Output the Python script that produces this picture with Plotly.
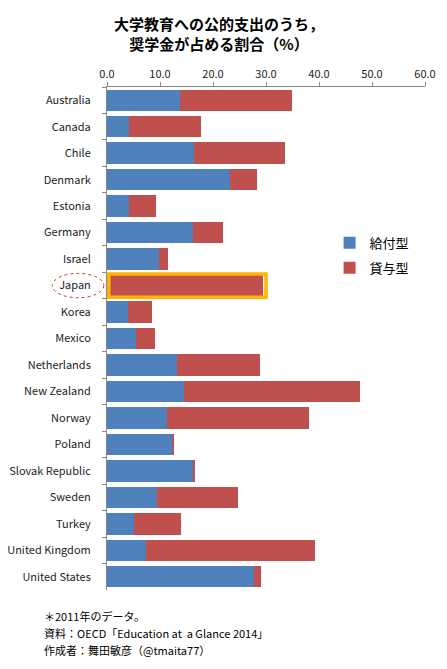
import plotly.graph_objects as go

countries = ["Australia", "Canada", "Chile", "Denmark", "Estonia", "Germany", "Israel",
             "Japan", "Korea", "Mexico", "Netherlands", "New Zealand", "Norway", "Poland",
             "Slovak Republic", "Sweden", "Turkey", "United Kingdom", "United States"]
grant = [13.8, 4.1, 16.4, 23.2, 4.1, 16.2, 9.9, 0.3, 4.0, 5.5, 13.2, 14.6, 11.3, 12.2,
         16.3, 9.5, 5.0, 7.4, 27.8]
loan = [21.1, 13.7, 17.2, 5.1, 5.2, 5.7, 1.6, 29.1, 4.5, 3.6, 15.7, 33.2, 26.8, 0.4,
        0.3, 15.2, 9.0, 31.8, 1.3]
x_ticks = [0, 10, 20, 30, 40, 50, 60]
series_names = ["給付型", "貸与型"]
title_lines = ["大学教育への公的支出のうち，", "奨学金が占める割合（%）"]
notes = ["＊2011年のデータ。", "資料：OECD「Education at  a Glance 2014」", "作成者：舞田敏彦（@tmaita77）"]
highlight = "Japan"

BLUE = "#4F81BD"
RED = "#C0504D"
FONT = "Noto Sans CJK JP"

fig = go.Figure()
fig.add_trace(go.Bar(y=countries, x=grant, orientation="h", name=series_names[0],
                     marker=dict(color=BLUE, line=dict(width=0)), legendgroup="a"))
fig.add_trace(go.Bar(y=countries, x=loan, orientation="h", name=series_names[1],
                     marker=dict(color=RED, line=dict(width=0)), legendgroup="b"))

hi = countries.index(highlight)
hi_total = grant[hi] + loan[hi]
fig.add_shape(type="rect", xref="x", yref="y", x0=0.35, x1=hi_total + 0.6,
              y0=hi - 0.44, y1=hi + 0.44, line=dict(color="#FFB400", width=3.5),
              layer="above")
fig.add_shape(type="circle", xref="paper", yref="y", x0=-0.172, x1=-0.01,
              y0=hi - 0.46, y1=hi + 0.46, line=dict(color="#E0303A", width=1, dash="dot"))

fig.update_layout(
    width=447, height=669,
    margin=dict(l=107, r=22, t=87, b=79),
    paper_bgcolor="white", plot_bgcolor="white",
    barmode="stack", bargap=0.19,
    font=dict(family=FONT, size=11, color="#222"),
    title=dict(text="<br>".join(title_lines), x=0.49, xanchor="center",
               yref="container", y=1 - 30 / 669, yanchor="middle",
               font=dict(family=FONT, size=15, color="black", weight="bold")),
    showlegend=True,
    legend=dict(x=0.70, y=0.72, xanchor="left", yanchor="top", traceorder="grouped",
                tracegroupgap=5, font=dict(family=FONT, size=13, color="black"),
                itemwidth=30, bgcolor="rgba(0,0,0,0)"),
    xaxis=dict(side="top", range=[0, 60], tickvals=x_ticks, tickformat=".1f",
               ticks="outside", ticklen=4, tickcolor="#888", showline=True, linecolor="#888",
               showgrid=False, zeroline=False, automargin=False,
               tickfont=dict(family=FONT, size=11, color="#222")),
    yaxis=dict(autorange="reversed", type="category", ticks="outside", tickson="boundaries",
               ticklen=4, tickcolor="#888", showline=True, linecolor="#888", showgrid=False,
               automargin=False,
               tickfont=dict(family=FONT, size=11, color="#222"), ticklabelstandoff=13),
)

for i, t in enumerate(notes):
    fig.add_annotation(text=t, xref="paper", yref="paper", x=-0.205, y=-0.052 - i * 0.034,
                       xanchor="left", yanchor="middle", showarrow=False, align="left",
                       font=dict(family=FONT, size=11, color="black"))

fig.write_html("out.html")
